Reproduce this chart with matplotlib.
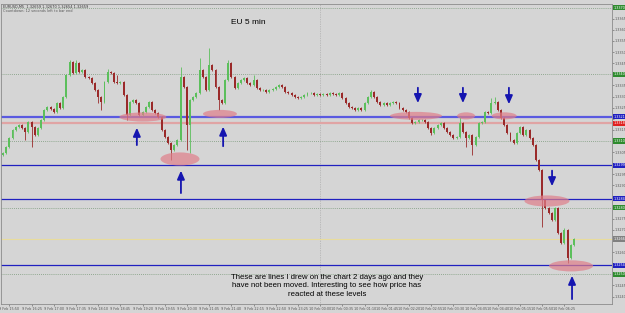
import matplotlib.pyplot as plt
import matplotlib.patches as mpatches
import matplotlib.transforms as mtransforms
import numpy as np
import pandas as pd

# EURUSD M5 closes
close = [
    1.33046, 1.33073, 1.33114, 1.33150, 1.33163, 1.33172, 1.33159, 1.33141, 1.33186, 1.33163,
    1.33127, 1.33159, 1.33195, 1.33240, 1.33253, 1.33244, 1.33231, 1.33271, 1.33249, 1.33298,
    1.33397, 1.33456, 1.33406, 1.33451, 1.33411, 1.33420, 1.33388, 1.33384, 1.33361, 1.33330,
    1.33298, 1.33276, 1.33366, 1.33411, 1.33406, 1.33366, 1.33361, 1.33366, 1.33307, 1.33217,
    1.33276, 1.33285, 1.33271, 1.33217, 1.33231, 1.33253, 1.33276, 1.33240, 1.33226,
    1.33208, 1.33150, 1.33118, 1.33091, 1.33060, 1.33082, 1.33105, 1.33388, 1.33343, 1.33172,
    1.33285, 1.33298, 1.33316, 1.33420, 1.33388, 1.33330, 1.33442, 1.33420, 1.33343, 1.33285,
    1.33271, 1.33375, 1.33451, 1.33388, 1.33339, 1.33361, 1.33375, 1.33384, 1.33361, 1.33352,
    1.33375, 1.33339, 1.33330, 1.33330, 1.33321, 1.33330, 1.33334, 1.33343, 1.33352, 1.33343,
    1.33321, 1.33316, 1.33307, 1.33298, 1.33294, 1.33298, 1.33307, 1.33316,
    1.33316, 1.33307, 1.33312, 1.33307, 1.33312, 1.33307, 1.33316, 1.33312, 1.33307, 1.33316,
    1.33294, 1.33271, 1.33253, 1.33249, 1.33240, 1.33249, 1.33240, 1.33271, 1.33298, 1.33321,
    1.33298, 1.33276, 1.33262, 1.33271, 1.33262, 1.33271, 1.33276, 1.33271, 1.33249, 1.33240,
    1.33231, 1.33204, 1.33181, 1.33186, 1.33195, 1.33195, 1.33186, 1.33159, 1.33136, 1.33159,
    1.33172, 1.33181, 1.33159, 1.33141, 1.33127, 1.33114, 1.33118, 1.33181, 1.33141,
    1.33114, 1.33127, 1.33082, 1.33118, 1.33181, 1.33186, 1.33231, 1.33226, 1.33271, 1.33276,
    1.33240, 1.33204, 1.33172, 1.33136, 1.33105, 1.33091, 1.33136, 1.33163, 1.33127, 1.33150,
    1.33114, 1.33082, 1.33015, 1.32970, 1.32835, 1.32799, 1.32776, 1.32745, 1.32799, 1.32686,
    1.32641, 1.32700, 1.32574, 1.32632, 1.32659,
]
first_open = 1.33037
long_highs = {21: 1.33465, 23: 1.33465, 33: 1.33424, 36: 1.33397, 56: 1.33433, 62: 1.33474,
              65: 1.33519, 71: 1.33465, 79: 1.33397, 116: 1.33330, 144: 1.33208,
              154: 1.33294, 155: 1.33298, 177: 1.32709}
long_lows = {7: 1.33105, 9: 1.33073, 30: 1.33271, 31: 1.33240, 39: 1.33195, 53: 1.33015,
             58: 1.33060, 59: 1.33046, 68: 1.33240, 135: 1.33127, 146: 1.33073,
             148: 1.33037, 170: 1.32713, 178: 1.32551}
WICK = 0.00004

blue_lines = [1.3321, 1.3299, 1.3284, 1.3254]
pink_line = 1.3318
green_levels = [1.3370, 1.3340, 1.3310, 1.3280, 1.3250]
bid = 1.32659
day_break = 100

# (bar, price, width in bars, height in price)
circles = [(44.1, 1.33208, 14.8, 0.00041), (55.8, 1.33019, 12.3, 0.00059),
           (68.4, 1.33222, 10.7, 0.00036), (130.2, 1.33213, 16.4, 0.00036),
           (146.0, 1.33213, 5.7, 0.00032), (158.0, 1.33213, 7.9, 0.00032),
           (171.5, 1.32830, 14.2, 0.00050), (179.1, 1.32538, 13.9, 0.00050)]
# (bar, tail price, head price)
arrows = [(42.2, 1.33069, 1.33172), (56.1, 1.32853, 1.32979), (69.4, 1.33064, 1.33177),
          (130.8, 1.33352, 1.33258), (145.0, 1.33352, 1.33258), (159.5, 1.33352, 1.33253),
          (173.1, 1.32979, 1.32884), (179.4, 1.32376, 1.32506)]

times = pd.date_range("2012-02-09 15:40", periods=len(close), freq="5min")

bg = "#d5d5d5"
fig = plt.figure(figsize=(6.25, 3.13), dpi=100, facecolor=bg)
ax = fig.add_axes([0.0016, 0.0288, 0.9776, 0.9585], facecolor=bg)

idx = np.arange(len(close))
opens = np.array([first_open] + close[:-1])
closes = np.array(close)
highs = np.array([long_highs.get(i, max(o, c) + WICK) for i, (o, c) in enumerate(zip(opens, closes))])
lows = np.array([long_lows.get(i, min(o, c) - WICK) for i, (o, c) in enumerate(zip(opens, closes))])
up = closes >= opens
cols = np.where(up, "#5cbf5c", "#9a2a2a")

for lv in green_levels:
    ax.axhline(lv, color="#7a9a7a", lw=0.6, ls=(0, (1, 1.5)), zorder=1)
ax.axvline(day_break, color="#a0a0a0", lw=0.5, ls=(0, (1, 1.5)), zorder=1)
ax.axhline(bid, color="#e8dc9c", lw=0.8, zorder=1)
ax.axhline(pink_line, color="#e0a4a4", lw=1.6, zorder=2)
ax.axhline(blue_lines[0], color="#5a5ae0", lw=1.6, zorder=2)
for lv in blue_lines[1:]:
    ax.axhline(lv, color="#2020c0", lw=0.9, zorder=2)

ax.vlines(idx, lows, highs, colors=cols, lw=0.6, zorder=3)
ax.bar(idx, np.maximum(np.abs(closes - opens), 0.000015), bottom=np.minimum(opens, closes),
       width=0.62, color=cols, zorder=4)

for bx, py, w, h in circles:
    ax.add_patch(mpatches.Ellipse((bx, py), w, h, fc="#e07f8a", ec="none", alpha=0.7, zorder=5))
for bx, tail, head in arrows:
    ax.annotate("", xy=(bx, head), xytext=(bx, tail),
                arrowprops=dict(arrowstyle="-|>,head_length=0.5,head_width=0.22",
                                color="#1515b0", lw=1.3, mutation_scale=10), zorder=6)

ax.text(77.2, 1.33631, "EU 5 min", fontsize=6, family="Liberation Sans", ha="center", va="center")
ax.text(102.1, 1.32448,
        "These are lines I drew on the chart 2 days ago and they\n"
        "have not been moved. Interesting to see how price has\n"
        "reacted at these levels",
        fontsize=5.6, family="Liberation Sans", ha="center", va="center", linespacing=1.35)
ax.text(0.003, 0.997, "EURUSD,M5  1.32659 1.32670 1.32654 1.32659", transform=ax.transAxes,
        fontsize=2.5, va="top", color="#333333")
ax.text(0.003, 0.983, "Countdown: 12 seconds left to bar end", transform=ax.transAxes,
        fontsize=2.5, va="top", color="#555555")

ax.set_xlim(-0.63, 192)
ax.set_ylim(1.323665, 1.337165)

# boxed labels for the drawn lines on the price scale
boxes = [(lv, "#2e8b2e") for lv in green_levels] + [(lv, "#2020c0") for lv in blue_lines]
boxes += [(pink_line, "#e02020"), (bid, "#808080")]
box_levels = [lv for lv, _ in boxes]

ax.yaxis.tick_right()
yt = np.arange(1.3240, 1.33701, 0.0005)
ax.set_yticks(yt)
ax.set_yticklabels(["" if min(abs(v - b) for b in box_levels) < 0.00025 else f"{v:.4f}" for v in yt])
tick_pos = list(range(2, len(close), 7))
ax.set_xticks(tick_pos)
ax.set_xticklabels([times[i].strftime("%-d %b %H:%M") for i in tick_pos])
ax.tick_params(axis="both", labelsize=2.4, colors="#555555", length=1.2, width=0.4, pad=0.8)
for s in ax.spines.values():
    s.set_color("#8c8c8c")
    s.set_linewidth(0.6)

trans = mtransforms.blended_transform_factory(ax.transAxes, ax.transData)
for lv, c in boxes:
    ax.text(1.003, lv, f"{lv:.4f}", transform=trans, fontsize=2.4, color="white", ha="left",
            va="center", bbox=dict(boxstyle="square,pad=0.2", fc=c, ec="none"), clip_on=False)

fig.savefig("out.png", dpi=100, facecolor=bg)
